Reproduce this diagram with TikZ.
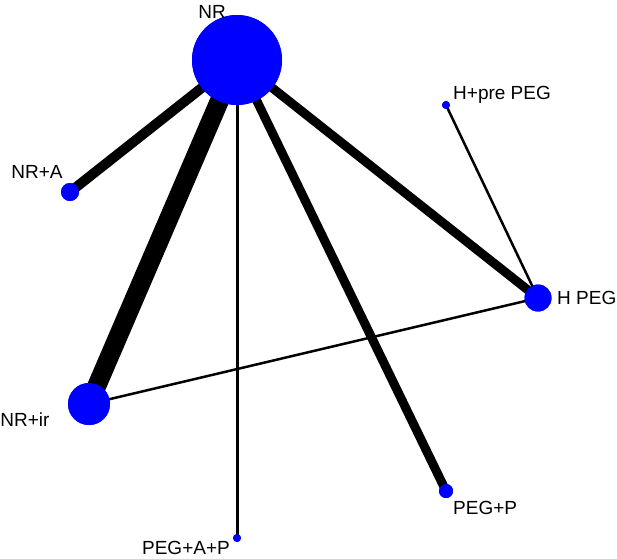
\documentclass[tikz,border=0pt]{standalone}
\usepackage{fontspec}
\setmainfont{Liberation Sans}
\usetikzlibrary{positioning}
\begin{document}
\begin{tikzpicture}[x=1pt,y=-1pt,
  trt/.style={circle,fill=blue,inner sep=0pt},
  lbl/.style={font=\fontsize{19}{22}\selectfont,inner sep=1pt},
  edge/.style={line width=#1}]
\useasboundingbox (0,0) rectangle (617,558);
% treatments
\node[trt,minimum size=90pt] (NR) at (237,60) {};
\node[trt,minimum size=18pt] (NRA) at (70,192) {};
\node[trt,minimum size=42pt] (NRir) at (89,404) {};
\node[trt,minimum size=27pt] (HPEG) at (538,298) {};
\node[trt,minimum size=8pt] (HpPEG) at (446,105) {};
\node[trt,minimum size=14pt] (PEGP) at (446,491) {};
\node[trt,minimum size=8pt] (PEGAP) at (237,538) {};
% comparisons
\draw[edge=10pt] (NR.center) -- (NRA.center);
\draw[edge=19pt] (NR.center) -- (NRir.center);
\draw[edge=3pt] (NR.center) -- (PEGAP.center);
\draw[edge=9pt] (NR.center) -- (PEGP.center);
\draw[edge=9pt] (NR.center) -- (HPEG.center);
\draw[edge=2.5pt] (HpPEG.center) -- (HPEG.center);
\draw[edge=2.5pt] (NRir.center) -- (HPEG.center);
% redraw nodes on top
\foreach \n/\s in {NR/90,NRA/18,NRir/42,HPEG/27,HpPEG/8,PEGP/14,PEGAP/8}
  \node[trt,minimum size=\s pt] at (\n) {};
% labels
\node[lbl] (lNR) at (212,12) {NR};
\node[lbl] (lNRA) at (37,172) {NR+A};
\node[lbl] (lNRir) at (25,420) {NR+ir};
\node[lbl,anchor=west] (lHPEG) at (556,298) {H PEG};
\node[lbl,anchor=west] (lHpPEG) at (452,95) {H+pre PEG};
\node[lbl,anchor=west] (lPEGP) at (452,508) {PEG+P};
\node[lbl,anchor=east] (lPEGAP) at (231,548) {PEG+A+P};
\end{tikzpicture}
\end{document}
